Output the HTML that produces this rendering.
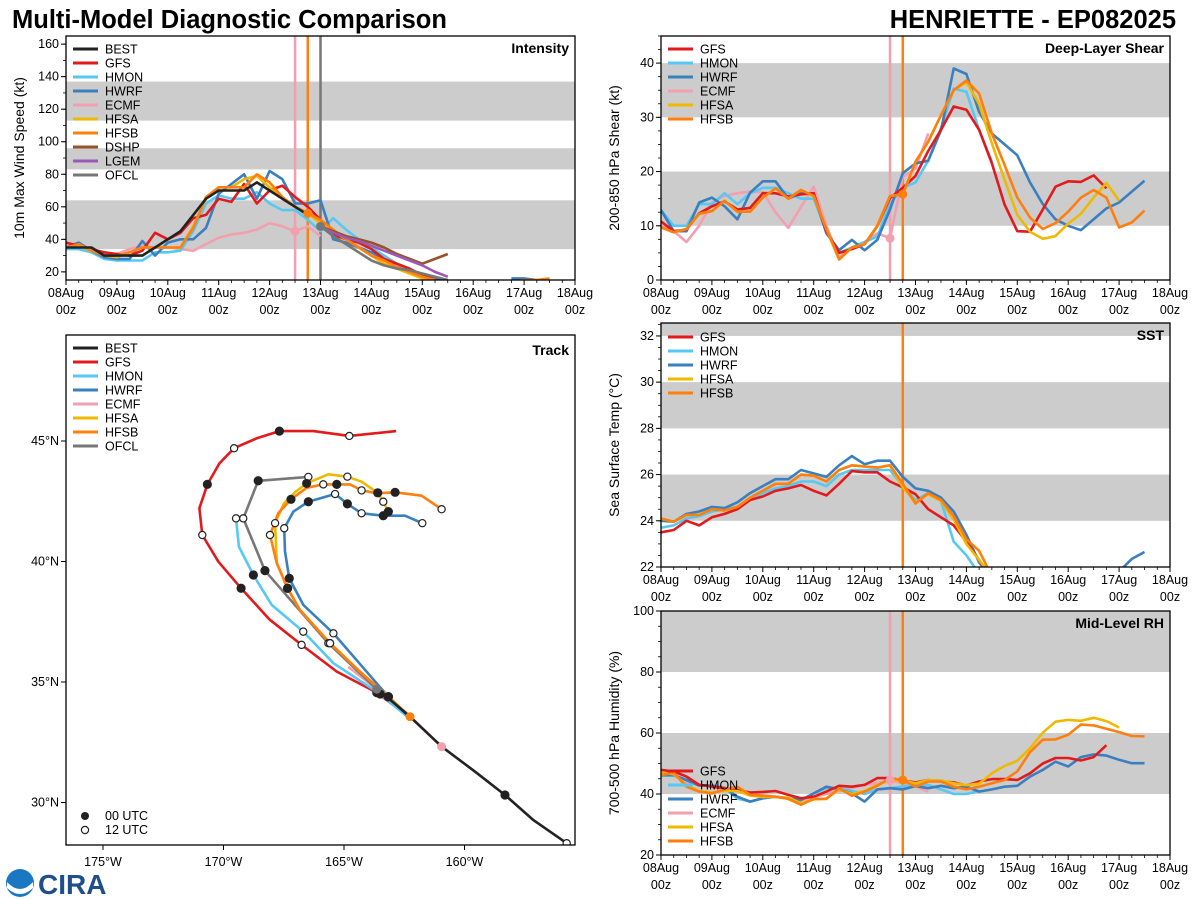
<!DOCTYPE html>
<html><head><meta charset="utf-8"><style>
html,body{margin:0;padding:0;background:#fff;}
svg{display:block;font-family:"Liberation Sans","DejaVu Sans",sans-serif;}
</style></head><body>
<svg id="chart" width="1200" height="900" viewBox="0 0 1200 900" xmlns="http://www.w3.org/2000/svg">
<text x="12" y="28" font-size="25.5" font-weight="bold" fill="#000">Multi-Model Diagnostic Comparison</text>
<text x="1176" y="28" font-size="25.5" font-weight="bold" fill="#000" text-anchor="end">HENRIETTE - EP082025</text>
<g id="layer"></g>
<g>
<circle cx="20" cy="883" r="14" fill="#1a78c2"/>
<path d="M7 882 Q20 896 33 882 L33 888 Q20 900 7 888Z" fill="#fff"/>
<text x="38" y="894" font-size="28" font-weight="bold" fill="#1f4e8c">CIRA</text>
</g>
</svg>
<script>
// ---------------- Data ----------------
const dayLabels = ["08Aug","09Aug","10Aug","11Aug","12Aug","13Aug","14Aug","15Aug","16Aug","17Aug","18Aug"];
const intenTicks = [20,40,60,80,100,120,140,160];
const shearTicks = [0,10,20,30,40];
const sstTicks = [22,24,26,28,30,32];
const rhTicks = [20,40,60,80,100];
const N = null;
// intensity (kt), 6-hourly from 08Aug 00z
const intBEST = [35,35,35,30,30,30,30,35,40,45,55,65,70,70,70,75,70,65,60,55];
const intGFS  = [38,36,34,32,31,30,33,44,40,44,53,55,65,63,74,62,70,73,66,60,52,43,40,38,34,28,25,22,18,15];
const intHMON = [34,34,32,28,27,27,27,32,32,33,45,62,67,65,65,69,62,58,58,52,45,53,46,40,35,30,25,20,17,14];
const intHWRF = [35,38,33,29,28,28,39,30,38,40,40,47,68,74,80,65,82,77,62,62,64,40,38,35,32,28,23,20,18,16,14,N,N,N,N,16,16,15];
const intECMF = [36,34,32,31,31,34,36,35,35,34,33,37,41,43,44,46,50,48,45,48,42];
const intHFSA = [35,36,33,30,29,32,35,35,35,35,48,65,72,72,77,79,72,65,60,56,50,45,40,35,30,25,22,19,16,14];
const intHFSB = [35,37,33,30,30,32,35,35,35,35,47,66,72,72,72,80,75,66,60,56,52,46,40,35,30,27,23,20,17,15,N,N,N,N,14,14,15,15,16];
const intDSHP = [N,N,N,N,N,N,N,N,N,N,N,N,N,N,N,N,N,N,N,N,48,45,42,40,38,35,31,28,25,28,31];
const intLGEM = [N,N,N,N,N,N,N,N,N,N,N,N,N,N,N,N,N,N,N,N,48,44,41,39,36,33,30,27,24,20,17];
const intOFCL = [N,N,N,N,N,N,N,N,N,N,N,N,N,N,N,N,N,N,N,N,48,42,37,32,27,24,22,21,19,17,15];
// deep-layer shear (kt)
const shGFS  = [10.8,9,9.3,12.3,13.6,14.5,13,13.3,16,16,15.4,15.8,16,9,5,5.7,6.6,9.9,15.1,17,19.2,23.8,27.7,32,31.4,27.7,21.5,13.9,9,8.9,13,17.2,18.2,18.1,19.3,16.9];
const shHMON = [12.9,10,10,14,14,16,14,16,17,17,16,15,15,9,5,6,7,8,14,17,18,22,28,35.3,34.7,27.7,21.8];
const shHWRF = [12.9,9,9,14.3,15.2,13.6,11.2,16.1,18.2,18.2,15,16,15.8,8.6,5.5,7.4,5.5,7.4,13,19.7,21.5,22,27.6,39,38,31,27,25,23,18,14,11.2,10,9.2,11.2,13.2,14.3,16.3,18.3];
const shECMF = [10.2,9,7,10,14.3,15.5,16,16.3,16.2,12.5,9.6,13.5,17.2,10,4.2,6,7,8.6,7.7,19,20.5,27];
const shHFSA = [9.7,8.8,9.4,12.2,12.7,14.6,12.6,12.6,15.2,16.9,15,16.6,15.5,9.4,3.8,6,6.6,10,15.5,15.8,21.8,25.5,30.4,35,36.5,32.5,25.2,18.5,12,8.9,7.6,8.1,10.4,12.2,15.2,17.9,14.6];
const shHFSB = [9.7,8.8,9.4,12.2,12.7,14.6,12.6,12.6,15.2,16.9,15,16.6,15.5,9.4,3.8,6,6.6,10,15.5,15.8,21.8,25.5,30.4,35,36.8,34.4,27,21.2,15.2,11.5,9.4,10.5,12.6,15.2,16.6,15.2,9.7,10.6,12.8];
// SST (C)
const sstGFS  = [23.5,23.6,24,23.8,24.15,24.3,24.5,24.9,25.05,25.3,25.4,25.55,25.3,25.1,25.6,26.15,26.1,26.1,25.7,25.45,25.15,24.5,24.15,23.8,23.1,22.3,21.5];
const sstHMON = [23.7,23.8,24.1,24.2,24.4,24.5,24.6,24.9,25.2,25.4,25.5,25.7,25.7,25.5,26,26.2,26.2,26.2,26.2,25.5,24.9,25.2,24.85,23.1,22.5,21.7];
const sstHWRF = [24,23.96,24.3,24.4,24.6,24.55,24.8,25.2,25.5,25.8,25.8,26.2,26.05,25.9,26.4,26.8,26.45,26.6,26.6,25.9,25.4,25.3,25,24.4,23.4,22.2,21.5,N,N,N,N,N,N,N,N,N,21.8,22.35,22.65];
const sstHFSA = [24.1,23.96,24.25,24.25,24.5,24.45,24.6,25,25.3,25.6,25.6,26,25.95,25.7,26.2,26.4,26.35,26.3,26.4,25.45,24.8,25.15,24.85,24.05,23,22.3,21.6];
const sstHFSB = [24.1,23.96,24.25,24.25,24.5,24.45,24.6,25,25.3,25.6,25.6,26,25.95,25.7,26.2,26.4,26.35,26.3,26.4,25.6,24.75,25.2,24.9,24.2,23.2,22.7,21.6];
// mid-level RH (%)
const rhGFS  = [47.9,47.4,45.7,43,42.4,41.9,41.3,40.5,40.7,41,39.7,38.6,39.1,40.8,42.7,42.4,43,45.2,45.2,44.4,43.8,44.6,44.1,43.8,42.8,44.1,44.9,44.9,44.6,46.8,50,51.8,51.8,51,52.1,56];
const rhHMON = [46,46,44.6,42.8,42.8,41.9,38.5,37.5,38.6,39.1,38.6,38,40.2,42,42,41,40,41.5,41.9,42.5,43,43,41.5,40,40,41];
const rhHWRF = [46.2,46.2,44.6,42.8,42.8,41.9,39.1,37.5,38.6,39.1,38.6,38,40.2,42.4,41.5,40.2,37.5,41.5,41.9,41.5,42.6,41.9,42.7,41.9,42.4,40.8,41.5,42.4,42.7,45.7,47.9,50.6,49,52.1,53,52.6,51.2,50.1,50.1];
const rhECMF = [46.5,46,44,43,42.5,42,41,40,39.5,39,38.5,38,39,40,41,42,43,43.5,44.5,43.5,42.5,40.8];
const rhHFSA = [47,46.5,43,41,40.5,41,41,39.5,39,39,38.8,37,38.2,38.5,41.5,40,41,43,44.5,44.4,43.5,44.6,44.4,43.5,42.9,43.4,46.8,49.2,50.9,55,60.1,63.7,64.3,64,65,63.9,61.8];
const rhHFSB = [46.2,47,42.4,40.8,40.2,41.5,42.4,39.7,39.5,39.1,38.4,36.5,38.4,38.4,41.9,39.4,40.8,42.7,45.2,44.6,42.4,44.1,44.1,42.4,41.5,42.4,43.5,44.6,47.4,53.7,57.8,57.9,59.4,62.8,62.5,61.4,60.3,59,58.9];
// track (lon, lat), from init outward; marks: 0 none, 1 = 00 UTC, 2 = 12 UTC
const trkBESTlon = [-155.76,-157.14,-158.32,-159.56,-160.95,-162.26,-163.64];
const trkBESTlat = [28.31,29.27,30.31,31.28,32.32,33.56,34.74];
const trkBESTmk  = [2,0,1,0,0,0,0];
const trkGFSlon = [-162.3,-163.64,-165.30,-166.76,-168.10,-169.27,-170.21,-170.88,-171.00,-170.67,-170.17,-169.56,-168.62,-167.68,-166.27,-164.78,-162.84];
const trkGFSlat = [33.55,34.56,35.43,36.54,37.60,38.89,39.99,41.10,42.21,43.20,44.07,44.70,45.11,45.41,45.41,45.21,45.41];
const trkGFSmk  = [0,1,0,2,0,1,0,2,0,1,0,2,0,1,0,2,0];
const trkHMONlon = [-162.3,-163.5,-165.44,-166.69,-168.0,-168.76,-169.36,-169.48];
const trkHMONlat = [33.5,34.5,35.78,37.09,38.20,39.44,40.62,41.79];
const trkHMONmk  = [0,1,0,2,0,1,0,2];
const trkHWRFlon = [-162.3,-163.16,-165.44,-166.69,-167.27,-167.45,-167.48,-167.10,-166.48,-165.37,-164.86,-164.27,-163.37,-162.47,-161.75];
const trkHWRFlat = [33.55,34.39,37.02,38.20,39.30,40.41,41.38,42.07,42.48,42.80,42.39,42.0,41.90,41.90,41.59];
const trkHWRFmk  = [0,1,2,0,1,0,2,0,1,2,1,2,1,0,2];
const trkECMFlon = [-160.95,-162.5,-164.82];
const trkECMFlat = [32.32,33.8,35.63];
const trkECMFmk  = [0,0,0];
const trkHFSAlon = [-162.3,-163.16,-164.34,-165.58,-166.83,-167.34,-167.79,-167.86,-167.50,-167.0,-166.55,-165.65,-164.86,-164.27,-163.6,-163.37,-163.16];
const trkHFSAlat = [33.6,34.39,35.43,36.61,37.99,38.89,39.93,41.59,42.40,42.90,43.24,43.62,43.52,43.31,42.85,42.48,42.07];
const trkHFSAmk  = [0,1,0,2,0,1,0,2,0,0,1,0,2,0,1,2,1];
const trkHFSBlon = [-162.26,-163.16,-164.34,-165.58,-166.83,-167.34,-167.79,-168.07,-167.73,-167.20,-166.55,-165.86,-165.30,-164.75,-164.27,-163.64,-162.88,-161.78,-160.95];
const trkHFSBlat = [33.56,34.39,35.43,36.61,37.99,38.89,39.93,41.10,42.0,42.58,43.06,43.20,43.20,43.20,42.95,42.83,42.87,42.73,42.17];
const trkHFSBmk  = [0,1,0,2,0,1,0,2,0,1,0,2,1,0,2,0,1,0,2];
const trkOFCLlon = [-163.64,-165.65,-168.28,-169.18,-168.56,-166.48];
const trkOFCLlat = [34.7,36.61,39.62,41.79,43.35,43.51];
const trkOFCLmk  = [0,2,1,2,1,2];
const lonTicks = [-175,-170,-165,-160];
const latTicks = [30,35,40,45];

// ---------------- Drawing ----------------
const NS="http://www.w3.org/2000/svg";
const layer=document.getElementById('layer');
function el(tag,attrs,parent){const e=document.createElementNS(NS,tag);for(const k in attrs)e.setAttribute(k,attrs[k]);(parent||layer).appendChild(e);return e;}
const COL={BEST:"#222222",GFS:"#e31a1c",HMON:"#56c8f5",HWRF:"#3a7fbf",ECMF:"#f29fb0",HFSA:"#f0b800",HFSB:"#ff7f0e",DSHP:"#96522a",LGEM:"#9b59b6",OFCL:"#777777"};
const XD=10; // days
const FS=12.5;
function makeAxes(x0,x1,y0,y1,vmin,vmax){
  return {x0,x1,y0,y1,vmin,vmax,
    x:i=>x0+(i/4)/XD*(x1-x0),
    y:v=>y1-(v-vmin)/(vmax-vmin)*(y1-y0)};
}
function panel(name,ax,bands,ticks,minorStep,ylabel,title,series,vlines,dots,legendNames,legendY){
  const g=el('g',{});
  
  
  const cid='clip-'+name;
  const cp=el('clipPath',{id:cid},g);
  el('rect',{x:ax.x0,y:ax.y0,width:ax.x1-ax.x0,height:ax.y1-ax.y0},cp);
  bands.forEach(b=>{
    const r=el('rect',{x:ax.x0,y:ax.y(Math.min(b[1],ax.vmax)),width:ax.x1-ax.x0,height:ax.y(b[0])-ax.y(Math.min(b[1],ax.vmax)),fill:"#cccccc"},g);
    
    
  });
  const pg=el('g',{'clip-path':'url(#'+cid+')'},g);
  vlines.forEach(v=>{
    const l=el('line',{x1:ax.x(v[0]),x2:ax.x(v[0]),y1:ax.y0,y2:ax.y1,stroke:COL[v[1]],'stroke-width':2.5},pg);
    
    
  });
  series.forEach(s=>{
    let d='',pen=false;
    s[1].forEach((v,i)=>{ if(v===null){pen=false;return;} d+=(pen?'L':'M')+ax.x(i).toFixed(1)+' '+ax.y(v).toFixed(1); pen=true;});
    const p=el('path',{d,fill:'none',stroke:COL[s[0]],'stroke-width':2.6,'stroke-linejoin':'round'},pg);
    
    
  });
  dots.forEach(dt=>{
    const c=el('circle',{cx:ax.x(dt[0]),cy:ax.y(dt[2]),r:4.5,fill:COL[dt[1]]},pg);
    
    
  });
  el('rect',{x:ax.x0,y:ax.y0,width:ax.x1-ax.x0,height:ax.y1-ax.y0,fill:'none',stroke:'#000','stroke-width':1.3},g);
  ticks.forEach(t=>{
    el('line',{x1:ax.x0-5,x2:ax.x0,y1:ax.y(t),y2:ax.y(t),stroke:'#000'},g);
    const tx=el('text',{x:ax.x0-7,y:ax.y(t)+4,'font-size':FS,'text-anchor':'end'},g);
    tx.textContent=t;
    
    
  });
  for(let v=Math.ceil(ax.vmin/minorStep)*minorStep; v<=ax.vmax; v+=minorStep){
    el('line',{x1:ax.x0-3,x2:ax.x0,y1:ax.y(v),y2:ax.y(v),stroke:'#000','stroke-width':0.8},g);
  }
  for(let i=0;i<=40;i++){
    const major=i%4===0;
    el('line',{x1:ax.x(i),x2:ax.x(i),y1:ax.y1,y2:ax.y1+(major?5:3),stroke:'#000','stroke-width':major?1:0.8},g);
  }
  dayLabels.forEach((lab,k)=>{
    const t1=el('text',{x:ax.x(k*4),y:ax.y1+17,'font-size':FS,'text-anchor':'middle'},g);
    t1.textContent=lab;
    
    
    const t2=el('text',{x:ax.x(k*4),y:ax.y1+34,'font-size':FS,'text-anchor':'middle'},g);
    t2.textContent='00z';
    
    
  });
  const yl=el('text',{x:0,y:0,'font-size':14,'text-anchor':'middle',transform:`translate(${ax.x0-42},${(ax.y0+ax.y1)/2}) rotate(-90)`},g);
  yl.textContent=ylabel;
  
  
  const tt=el('text',{x:ax.x1-6,y:ax.y0+17,'font-size':14,'font-weight':'bold','text-anchor':'end'},g);
  tt.textContent=title;
  
  
  legend(g,ax.x0+7,legendY,legendNames);
}
function legend(g,x,y,names){
  names.forEach((n,k)=>{
    const yy=y+k*14;
    const l=el('line',{x1:x,x2:x+25,y1:yy,y2:yy,stroke:COL[n],'stroke-width':3},g);
    
    
    const t=el('text',{x:x+32,y:yy+4.5,'font-size':FS},g);
    t.textContent=n;
    
    
  });
}
const axI=makeAxes(66,575,36,280,15,165);
panel('intensity',axI,[[34,64],[83,96],[113,137]],intenTicks,10,'10m Max Wind Speed (kt)','Intensity',
 [['ECMF',intECMF],['HMON',intHMON],['HWRF',intHWRF],['GFS',intGFS],['HFSA',intHFSA],['HFSB',intHFSB],['DSHP',intDSHP],['LGEM',intLGEM],['OFCL',intOFCL],['BEST',intBEST]],
 [[18,'ECMF'],[19,'HFSB'],[20,'OFCL']],[[18,'ECMF',intECMF[18]],[19,'HFSB',intHFSB[19]],[20,'OFCL',intOFCL[20]]],
 ['BEST','GFS','HMON','HWRF','ECMF','HFSA','HFSB','DSHP','LGEM','OFCL'],49);
const axS=makeAxes(661,1170,36,280,0,45);
panel('shear',axS,[[10,20],[30,40]],shearTicks,2.5,'200-850 hPa Shear (kt)','Deep-Layer Shear',
 [['ECMF',shECMF],['HMON',shHMON],['HWRF',shHWRF],['GFS',shGFS],['HFSA',shHFSA],['HFSB',shHFSB]],
 [[18,'ECMF'],[19,'HFSB']],[[18,'ECMF',shECMF[18]],[19,'HFSB',shHFSB[19]]],
 ['GFS','HMON','HWRF','ECMF','HFSA','HFSB'],49);
const axT=makeAxes(661,1170,323,567,22,32.56);
panel('sst',axT,[[24,26],[28,30],[32,34]],sstTicks,0.5,'Sea Surface Temp (°C)','SST',
 [['HMON',sstHMON],['HWRF',sstHWRF],['GFS',sstGFS],['HFSA',sstHFSA],['HFSB',sstHFSB]],
 [[19,'HFSB']],[],['GFS','HMON','HWRF','HFSA','HFSB'],337);
const axR=makeAxes(661,1170,611,855,20,100);
panel('rh',axR,[[40,60],[80,100]],rhTicks,5,'700-500 hPa Humidity (%)','Mid-Level RH',
 [['ECMF',rhECMF],['HMON',rhHMON],['HWRF',rhHWRF],['GFS',rhGFS],['HFSA',rhHFSA],['HFSB',rhHFSB]],
 [[18,'ECMF'],[19,'HFSB']],[[18,'ECMF',rhECMF[18]],[19,'HFSB',rhHFSB[19]]],
 ['GFS','HMON','HWRF','ECMF','HFSA','HFSB'],771);

(function(){
  const x0=66,x1=575,y0=335,y1=845;
  const lx=lon=>103+(lon+175)*24.1;
  const ly=lat=>441-(lat-45)*24.1;
  const g=el('g',{});
  
  
  const cp=el('clipPath',{id:'clip-track'},g);
  el('rect',{x:x0,y:y0,width:x1-x0,height:y1-y0},cp);
  const pg=el('g',{'clip-path':'url(#clip-track)'},g);
  const tracks=[['ECMF',trkECMFlon,trkECMFlat,trkECMFmk],['GFS',trkGFSlon,trkGFSlat,trkGFSmk],['HMON',trkHMONlon,trkHMONlat,trkHMONmk],['HWRF',trkHWRFlon,trkHWRFlat,trkHWRFmk],['OFCL',trkOFCLlon,trkOFCLlat,trkOFCLmk],['HFSA',trkHFSAlon,trkHFSAlat,trkHFSAmk],['HFSB',trkHFSBlon,trkHFSBlat,trkHFSBmk],['BEST',trkBESTlon,trkBESTlat,trkBESTmk]];
  tracks.forEach(t=>{
    let d='';
    t[1].forEach((lon,i)=>{d+=(i?'L':'M')+lx(lon).toFixed(1)+' '+ly(t[2][i]).toFixed(1);});
    const p=el('path',{d,fill:'none',stroke:COL[t[0]],'stroke-width':2.6,'stroke-linejoin':'round'},pg);
    
    
  });
  tracks.forEach(t=>{
    t[3].forEach((m,i)=>{
      if(!m)return;
      const c=el('circle',{cx:lx(t[1][i]),cy:ly(t[2][i]),r:m===1?4:3.6,fill:m===1?'#222':'#fff',stroke:'#222','stroke-width':1.2},pg);
      
      
    });
  });
  [['ECMF',-160.95,32.32],['HFSB',-162.26,33.56],['OFCL',-163.64,34.7]].forEach(p=>{
    const c=el('circle',{cx:lx(p[1]),cy:ly(p[2]),r:4.5,fill:COL[p[0]]},pg);
    
    
  });
  el('rect',{x:x0,y:y0,width:x1-x0,height:y1-y0,fill:'none',stroke:'#000','stroke-width':1.3},g);
  lonTicks.forEach(v=>{
    el('line',{x1:lx(v),x2:lx(v),y1:y1,y2:y1+5,stroke:'#000'},g);
    const t=el('text',{x:lx(v),y:y1+21,'font-size':FS,'text-anchor':'middle'},g);
    t.textContent=Math.abs(v)+'°W';
    
    
  });
  latTicks.forEach(v=>{
    el('line',{x1:x0-5,x2:x0,y1:ly(v),y2:ly(v),stroke:'#000'},g);
    const t=el('text',{x:x0-7,y:ly(v)+4,'font-size':FS,'text-anchor':'end'},g);
    t.textContent=v+'°N';
    
    
  });
  const tt=el('text',{x:x1-6,y:y0+20,'font-size':14,'font-weight':'bold','text-anchor':'end'},g);
  tt.textContent='Track';
  
  
  legend(g,73,348,['BEST','GFS','HMON','HWRF','ECMF','HFSA','HFSB','OFCL']);
  const c1=el('circle',{cx:85,cy:816,r:4,fill:'#222'},g);
  
  
  const t1=el('text',{x:105,y:820,'font-size':FS},g);t1.textContent='00 UTC';
  
  
  const c2=el('circle',{cx:85,cy:830,r:3.6,fill:'#fff',stroke:'#222','stroke-width':1.2},g);
  
  
  const t2=el('text',{x:105,y:834,'font-size':FS},g);t2.textContent='12 UTC';
  
  
})();
</script>
</body></html>
